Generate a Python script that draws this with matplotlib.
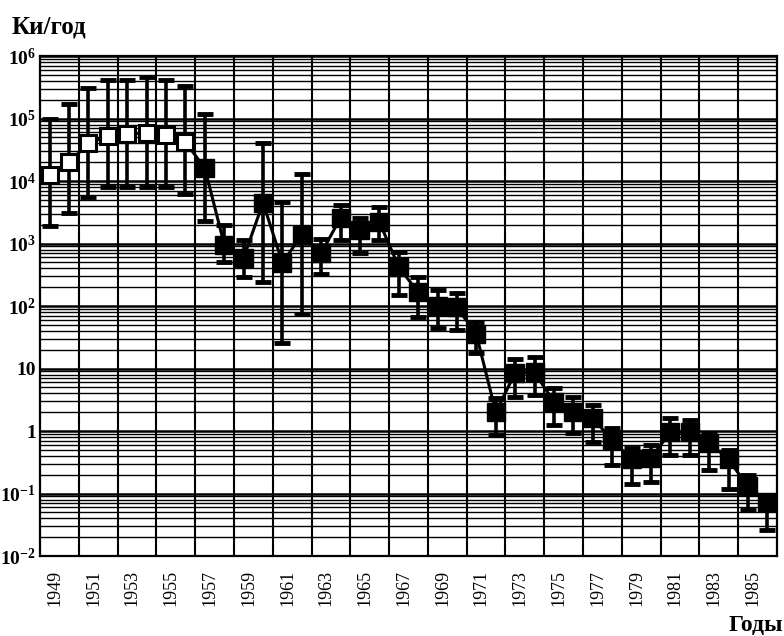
import numpy as np
import matplotlib
matplotlib.use('Agg')
import matplotlib.pyplot as plt
import matplotlib.transforms as mtransforms
from matplotlib.ticker import FixedLocator, FixedFormatter, LogLocator, NullFormatter

# annual release, Ci/year, with upper and lower bounds
years = np.arange(1949, 1987)
values = np.array([1.25e4, 2.0e4, 4.0e4, 5.3e4, 5.6e4, 5.9e4, 5.5e4, 4.2e4,
                   1.6e4, 960, 590, 4500, 490, 1380, 700, 2600, 1650, 2200,
                   420, 165, 100, 95, 35, 2.0, 8.5, 8.7, 2.9, 2.0, 1.6, 0.72,
                   0.35, 0.37, 0.96, 0.96, 0.65, 0.35, 0.13, 0.073])
upper = np.array([1.0e5, 1.7e5, 3.1e5, 4.1e5, 4.2e5, 4.6e5, 4.2e5, 3.3e5,
                  1.2e5, 2000, 1150, 4.0e4, 4600, 1.3e4, 1200, 4200, 2600, 3800,
                  720, 290, 180, 160, 55, 3.4, 14, 15, 4.9, 3.5, 2.6, 1.1,
                  0.54, 0.6, 1.6, 1.5, 0.93, 0.5, 0.2, 0.095])
lower = np.array([1.9e3, 3.1e3, 5.5e3, 8.0e3, 8.0e3, 8.0e3, 8.0e3, 6.1e3,
                  2.3e3, 500, 290, 240, 26, 75, 320, 1150, 700, 1150,
                  150, 66, 45, 41, 18, 0.87, 3.5, 3.8, 1.26, 0.93, 0.66, 0.29,
                  0.14, 0.15, 0.42, 0.42, 0.24, 0.12, 0.055, 0.026])
first_filled = 1957

y_ticks = [1e-2, 1e-1, 1, 10, 1e2, 1e3, 1e4, 1e5, 1e6]
y_labels = [r'$10^{-2}$', r'$10^{-1}$', '1', '10', r'$10^{2}$',
            r'$10^{3}$', r'$10^{4}$', r'$10^{5}$', r'$10^{6}$']
x_ticks = np.arange(1949, 1986, 2)

plt.rcParams['font.family'] = 'Liberation Serif'
plt.rcParams['mathtext.fontset'] = 'custom'
plt.rcParams['mathtext.rm'] = 'Liberation Serif:bold'
plt.rcParams['mathtext.it'] = 'Liberation Serif:bold'
plt.rcParams['mathtext.bf'] = 'Liberation Serif:bold'

fig = plt.figure(figsize=(7.84, 6.36), dpi=100)
ax = fig.add_axes([40 / 784, 80 / 636, 737 / 784, 500 / 636])

ax.set_yscale('log')
ax.set_ylim(1e-2, 1e6)
ax.set_xlim(1948.5, 1986.5)

ax.yaxis.set_major_locator(FixedLocator(y_ticks))
ax.yaxis.set_major_formatter(FixedFormatter(y_labels))
ax.yaxis.set_minor_locator(LogLocator(base=10, subs=np.arange(2, 10)))
ax.yaxis.set_minor_formatter(NullFormatter())
ax.xaxis.set_major_locator(FixedLocator(x_ticks))
ax.xaxis.set_major_formatter(FixedFormatter([str(y) for y in x_ticks]))
ax.xaxis.set_minor_locator(FixedLocator(np.arange(1950.5, 1986, 2)))

ax.tick_params(which='both', length=0)
ax.tick_params(axis='y', labelsize=14, pad=3)
ax.tick_params(axis='x', labelsize=13, pad=10, labelrotation=90)
for lbl in ax.get_yticklabels():
    lbl.set_fontweight('bold')
shift = mtransforms.ScaledTranslation(5 / 100, 0, fig.dpi_scale_trans)
for lbl in ax.get_xticklabels():
    lbl.set_transform(lbl.get_transform() + shift)

# dense black grid
ax.grid(True, which='major', axis='y', color='black', lw=1.8)
ax.grid(True, which='minor', axis='y', color='black', lw=1.0)
ax.grid(True, which='minor', axis='x', color='black', lw=1.5)
ax.set_axisbelow(True)
for sp in ax.spines.values():
    sp.set_linewidth(1.6)
    sp.set_color('black')

# connecting line, error bars, then markers on top
ax.plot(years, values, color='black', lw=2.2, zorder=3)
ax.errorbar(years, values, yerr=[values - lower, upper - values], fmt='none',
            ecolor='black', elinewidth=2.6, capsize=6, capthick=3.5, zorder=4)
open_pts = years < first_filled
ax.plot(years[open_pts], values[open_pts], 's', ms=11.5, mfc='white',
        mec='black', mew=2.2, zorder=5)
ax.plot(years[~open_pts], values[~open_pts], 's', ms=12.5, color='black', zorder=5)

fig.text(12 / 784, 1 - 33 / 636, 'Ки/год', fontsize=18, fontweight='bold',
         va='baseline', ha='left')
fig.text(783 / 784, 1 - 631 / 636, 'Годы', fontsize=17, fontweight='bold',
         va='baseline', ha='right')

fig.savefig('out.png', dpi=100)
